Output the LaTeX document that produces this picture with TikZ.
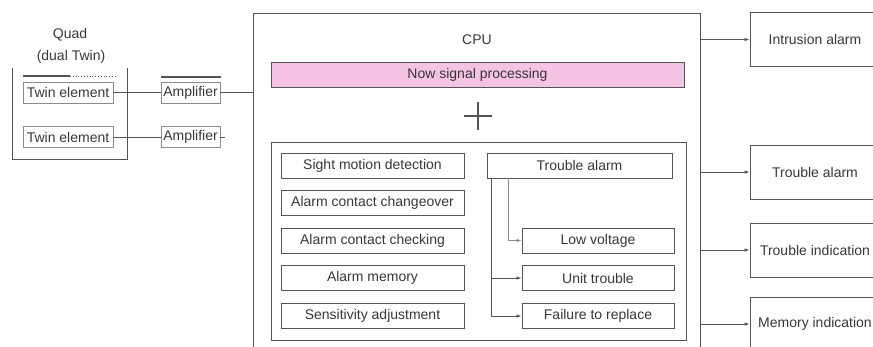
\documentclass[tikz,border=0pt]{standalone}
\usepackage{fontspec}
\setmainfont{Liberation Sans}
\usetikzlibrary{arrows.meta}
\definecolor{pinkfill}{RGB}{245,196,228}
\definecolor{ln}{RGB}{85,85,85}
\definecolor{lnlight}{RGB}{140,140,140}
\definecolor{tx}{RGB}{55,55,55}
\begin{document}
\begin{tikzpicture}[x=1pt,y=-1pt,
  every node/.style={font=\fontsize{14}{16}\selectfont, text=tx},
  box/.style={draw=ln, line width=0.8pt, inner sep=0pt, minimum height=25pt},
  smallbox/.style={draw=lnlight, line width=0.8pt, inner sep=0pt, minimum height=21pt},
  outbox/.style={draw=ln, line width=0.8pt, inner sep=0pt, minimum width=130pt, minimum height=54pt},
  conn/.style={draw=ln, line width=0.8pt},
  arr/.style={conn, -{Latex[length=5pt,width=3.5pt]}}]
\useasboundingbox (0,0) rectangle (873,347);
\clip (0,0) rectangle (873,347);

% left block
\node (quad) at (70,35) {Quad};
\node (dual) at (71,57) {(dual Twin)};
\draw[conn] (12,68) -- (12,159) -- (127,159) -- (127,68);
\draw[conn, line width=1.2pt] (23,76) -- (70,76);
\draw[conn, dotted] (70,76) -- (115,76);
\node[smallbox, minimum width=90pt] (tw1) at (68,92.5) {Twin element};
\node[smallbox, minimum width=90pt] (tw2) at (68,137) {Twin element};
\node[smallbox, minimum width=59pt] (amp1) at (190.5,92.5) {Amplifier};
\node[smallbox, minimum width=59pt] (amp2) at (190.5,137) {Amplifier};
\draw[conn, line width=1.5pt] (161,77) -- (221,77);

% CPU
\node[draw=ln, line width=0.8pt, minimum width=447pt, minimum height=340pt, inner sep=0pt, anchor=north west] (cpu) at (253,13) {};
\node (cpulabel) at (477,40) {CPU};
\node[box, fill=pinkfill, minimum width=413pt] (nsp) at (477.5,74.5) {Now signal processing};
\draw[ln, line width=1.6pt] (464,116) -- (492,116) (478,102) -- (478,130);

\draw[conn] (tw1.east) -- (amp1.west);
\draw[conn] (tw2.east) -- (amp2.west);
\draw[conn] (amp1.east) -- (amp1.east -| cpu.west);
\coordinate (stub2) at (225,137);
\draw[conn] (amp2.east) -- (stub2);

% inner box
\node[draw=ln, line width=0.8pt, minimum width=415pt, minimum height=198pt, inner sep=0pt, anchor=north west] (inner) at (271,142) {};

\node[box, minimum width=183pt] (smd) at (372.5,165.5) {Sight motion detection};
\node[box, minimum width=183pt] (acc) at (372.5,203) {Alarm contact changeover};
\node[box, minimum width=183pt] (ack) at (372.5,240.5) {Alarm contact checking};
\node[box, minimum width=183pt] (am)  at (372.5,278) {Alarm memory};
\node[box, minimum width=183pt] (sa)  at (372.5,316) {Sensitivity adjustment};

\node[box, minimum width=185pt] (ta) at (579.5,165.5) {Trouble alarm};
\node[box, minimum width=152pt] (lv) at (598,240.5) {Low voltage};
\node[box, minimum width=152pt] (ut) at (598,278) {Unit trouble};
\node[box, minimum width=152pt] (fr) at (598,316) {Failure to replace};

\draw[arr] ([xshift=5pt]ta.south west) |- (fr.west);
\draw[arr] ([xshift=5pt]ta.south west |- ut.west) -- (ut.west);
\draw[arr, draw=lnlight] ([xshift=22pt]ta.south west) |- (lv.west);

% outputs
\node[outbox] (ia) at (815,39.5) {Intrusion alarm};
\node[outbox] (oa) at (815,172) {Trouble alarm};
\node[outbox] (ti) at (815,250) {Trouble indication};
\node[outbox] (mi) at (815,324) {Memory indication};

\draw[arr] (cpu.east |- ia.west) -- (ia.west);
\draw[arr] (cpu.east |- oa.west) -- (oa.west);
\draw[arr] (cpu.east |- ti.west) -- (ti.west);
\draw[arr] (cpu.east |- mi.west) -- (mi.west);
\end{tikzpicture}
\end{document}
